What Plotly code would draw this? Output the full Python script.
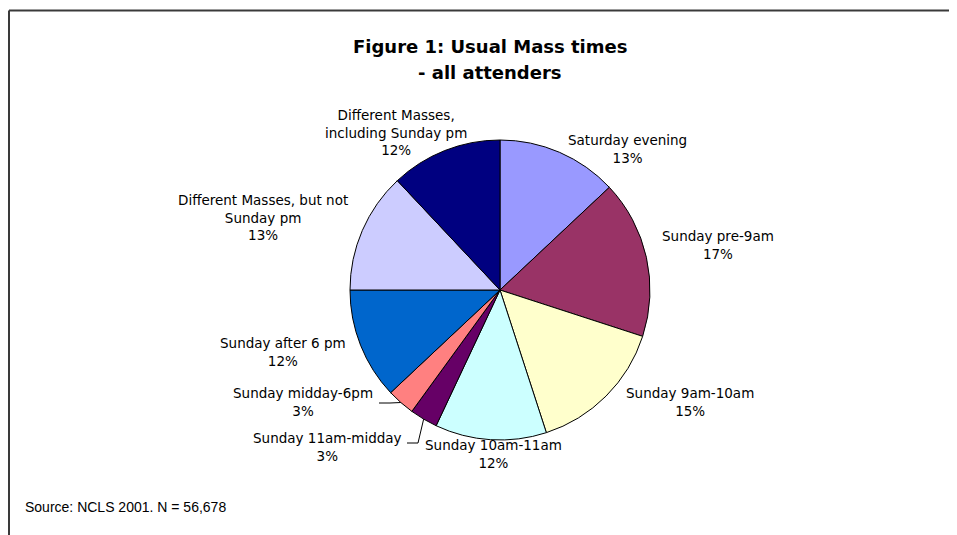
import math
import plotly.graph_objects as go

categories = [
    "Saturday evening",
    "Sunday pre-9am",
    "Sunday 9am-10am",
    "Sunday 10am-11am",
    "Sunday 11am-midday",
    "Sunday midday-6pm",
    "Sunday after 6 pm",
    "Different Masses, but not Sunday pm",
    "Different Masses, including Sunday pm",
]
values = [13, 17, 15, 12, 3, 3, 12, 13, 12]
label_text = [
    "Saturday evening",
    "Sunday pre-9am",
    "Sunday 9am-10am",
    "Sunday 10am-11am",
    "Sunday 11am-midday",
    "Sunday midday-6pm",
    "Sunday after 6 pm",
    "Different Masses, but not<br>Sunday pm",
    "Different Masses,<br>including Sunday pm",
]
title_lines = ["Figure 1: Usual Mass times", "- all attenders"]
source_text = "Source: NCLS 2001. N = 56,678"

colors = ["#9999FF", "#993366", "#FFFFCC", "#CCFFFF", "#660066",
          "#FF8080", "#0066CC", "#CCCCFF", "#000080"]

# page is offset by the browser's 8px body margin
OFF = 8
FW, FH = 957 - OFF, 535 - OFF


def PX(x):
    return (x - OFF) / FW


def PY(y):
    return 1 - (y - OFF) / FH


# label block centres in page pixels
label_pos = [
    (627, 149), (718, 245), (690, 402), (494, 454), (327, 447),
    (303, 402), (283, 352), (263, 217), (396, 132),
]

cx, cy, r = 500, 290, 150
LABEL_FONT = dict(family="DejaVu Sans", size=13.5, color="black")

fig = go.Figure(go.Pie(
    labels=categories,
    values=values,
    sort=False,
    direction="clockwise",
    rotation=0,
    textinfo="none",
    hoverinfo="label+percent",
    marker=dict(colors=colors, line=dict(color="black", width=1)),
    domain=dict(x=[PX(cx - r), PX(cx + r)], y=[PY(cy + r), PY(cy - r)]),
    showlegend=False,
))

total = sum(values)
annotations = []
for txt, v, (px, py) in zip(label_text, values, label_pos):
    pct = round(100 * v / total)
    annotations.append(dict(
        x=PX(px), y=PY(py), xref="paper", yref="paper",
        text=f"{txt}<br>{pct}%", showarrow=False,
        font=LABEL_FONT, xanchor="center", yanchor="middle", align="center",
    ))

TITLE_FONT = dict(family="DejaVu Sans", size=18, color="black")
annotations.append(dict(x=PX(490), y=PY(46), xref="paper", yref="paper",
                        text=f"<b>{title_lines[0]}</b>", showarrow=False,
                        font=TITLE_FONT, xanchor="center", yanchor="middle"))
annotations.append(dict(x=PX(490), y=PY(72), xref="paper", yref="paper",
                        text=f"<b>{title_lines[1]}</b>", showarrow=False,
                        font=TITLE_FONT, xanchor="center", yanchor="middle"))
annotations.append(dict(x=PX(23), y=PY(507), xref="paper", yref="paper",
                        text=source_text, showarrow=False,
                        font=dict(family="Arial", size=14, color="black"),
                        xanchor="left", yanchor="middle"))


def P(x, y):
    return f"{PX(x)},{PY(y)}"


def slice_edge_point(idx):
    start = sum(values[:idx]) / total
    mid = start + values[idx] / total / 2
    th = 2 * math.pi * mid
    return cx + r * math.sin(th), cy - r * math.cos(th)


s11 = slice_edge_point(4)
s12 = slice_edge_point(5)

shapes = [
    dict(type="line", xref="paper", yref="paper", x0=PX(9), y0=PY(10.5), x1=1, y1=PY(10.5),
         line=dict(color="#3a3a3a", width=2)),
    dict(type="line", xref="paper", yref="paper", x0=PX(9), y0=PY(10.5), x1=PX(9), y1=0,
         line=dict(color="#3a3a3a", width=2)),
    dict(type="path", xref="paper", yref="paper",
         path=f"M{P(*s11)} L{P(418, 443)} L{P(407, 443)}",
         line=dict(color="black", width=1)),
    dict(type="path", xref="paper", yref="paper",
         path=f"M{P(*s12)} L{P(390, 403)} L{P(379, 403)}",
         line=dict(color="black", width=1)),
]

fig.update_layout(
    width=FW, height=FH,
    margin=dict(l=0, r=0, t=0, b=0),
    paper_bgcolor="white", plot_bgcolor="white",
    annotations=annotations, shapes=shapes,
)
fig.write_html("out.html")
